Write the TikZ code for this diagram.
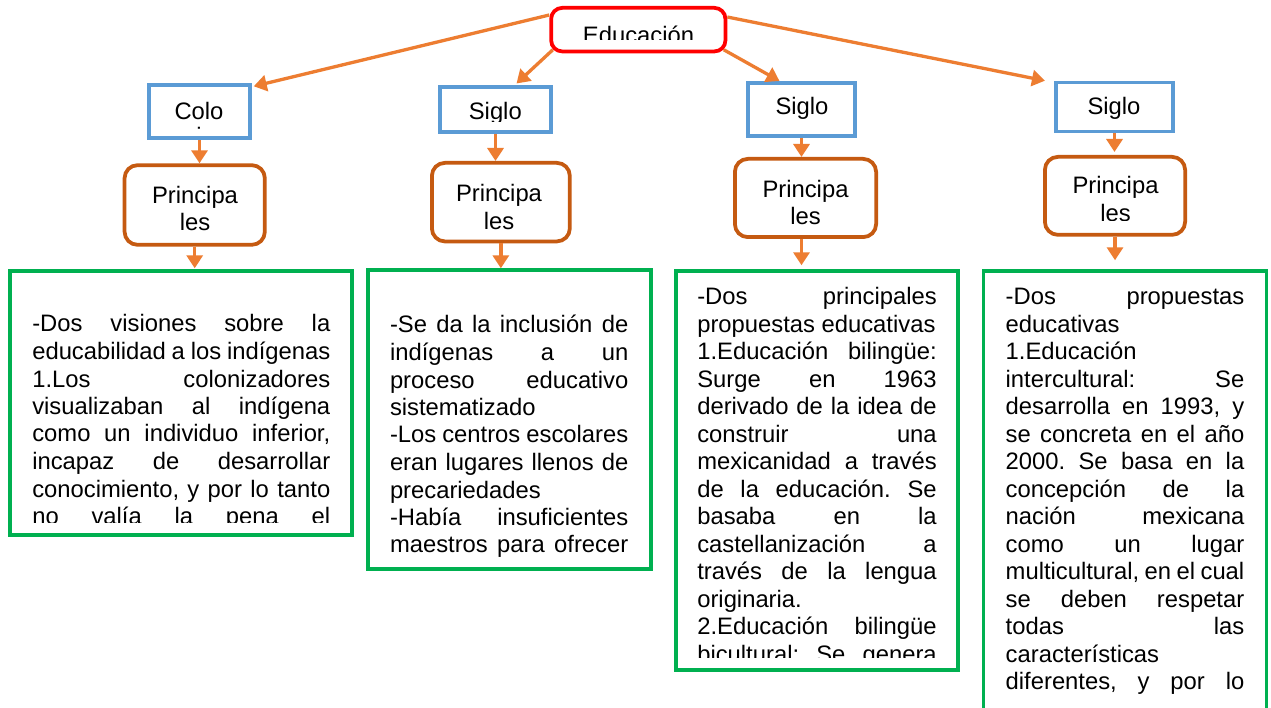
\documentclass[tikz,border=0pt]{standalone}
\usepackage{fontspec}
\setmainfont{Liberation Sans}
\usetikzlibrary{arrows.meta,calc}
\definecolor{arrowc}{HTML}{ED7D31}
\definecolor{bluec}{HTML}{5B9BD5}
\definecolor{brownc}{HTML}{C55A11}
\definecolor{greenc}{HTML}{00B050}
\definecolor{redc}{HTML}{FF0000}
\frenchspacing
\newcommand\fs{\fontsize{23.8pt}{27.5pt}\selectfont}
\newcommand\J[1]{\hbox to\hsize{#1}}
\newcommand\Rg[1]{\hbox to\hsize{#1\hfil}}
\newcommand\Cn[1]{\hbox to\hsize{\hfil#1\hfil}}
\newcommand\tb[2]{\vtop{\hsize=#1\relax\fs #2}}
\tikzset{
  boxline/.style={line width=3.75pt, inner sep=0pt, outer sep=1.875pt},
  edubox/.style={boxline, draw=redc, fill=white, rounded corners=11pt},
  bluebox/.style={boxline, draw=bluec},
  brownbox/.style={boxline, draw=brownc, rounded corners=13pt},
  greenbox/.style={boxline, draw=greenc},
  arr/.style={draw=arrowc, line width=3.3pt, -{Triangle[length=13pt,width=16pt]}},
  txt/.style={inner sep=0pt, outer sep=0pt, anchor=base west},
  ctxt/.style={inner sep=0pt, outer sep=0pt, anchor=base},
}
\begin{document}
\begin{tikzpicture}[x=1pt,y=-1pt]
\path[use as bounding box] (0,0) rectangle (1271,708);
\clip (0,0) rectangle (1271,708);
\fill[white] (0,0) rectangle (1271,708);

% boxes
\node[edubox, minimum width=174.25pt, minimum height=43.55pt] (edu) at (638.3,29.65) {};
\node[bluebox, minimum width=100.65pt, minimum height=52.95pt] (b1) at (199.5,111.65) {};
\node[bluebox, minimum width=111.25pt, minimum height=45.25pt] (b2) at (495.5,109.5) {};
\node[bluebox, minimum width=107.25pt, minimum height=53.25pt] (b3) at (801.5,109.5) {};
\node[bluebox, minimum width=117.25pt, minimum height=48.85pt] (b4) at (1114.5,107) {};
\node[brownbox, minimum width=140.25pt, minimum height=79.65pt] (o1) at (194.7,205) {};
\node[brownbox, minimum width=137.95pt, minimum height=78.55pt] (o2) at (500.85,202.15) {};
\node[brownbox, minimum width=141.25pt, minimum height=78.25pt] (o3) at (805.5,198) {};
\node[brownbox, minimum width=140.25pt, minimum height=77.95pt] (o4) at (1115,195.85) {};
\node[greenbox, minimum width=341.95pt, minimum height=263.65pt] (g1) at (181.15,403) {};
\node[greenbox, minimum width=282.95pt, minimum height=298.65pt] (g2) at (509.35,419.5) {};
\node[greenbox, minimum width=282.25pt, minimum height=399pt] (g3) at (817,470.65) {};
\node[greenbox, minimum width=282.85pt, minimum height=467pt] (g4) at (1125,504.65) {};

% connectors
\draw[arr] ($(edu.north west)+(0,9)$) -- ($(b1.north east)+(2,3)$);
\draw[arr] ($(edu.south west)+(3.5,-3.5)$) -- ($(b2.north)+(21,-1.5)$);
\draw[arr] ($(edu.south east)+(-3.5,-3.5)$) -- ($(b3.north)+(-22,0)$);
\draw[arr] ($(edu.north east)+(0,11)$) -- ($(b4.north west)+(-9,0)$);
\draw[arr] (b1.south) -- (b1.south |- o1.north);
\draw[arr, shorten >=1pt] (o1.south) -- (o1.south |- g1.north);
\draw[arr] (b2.south) -- (b2.south |- o2.north);
\draw[arr] (o2.south) -- (o2.south |- g2.north);
\draw[arr] (b3.south) -- (b3.south |- o3.north);
\draw[arr, shorten >=4pt] (o3.south -| b3.south) -- (b3.south |- g3.north);
\draw[arr, shorten >=3pt] (b4.south) -- (b4.south |- o4.north);
\draw[arr, shorten >=9pt] (o4.south) -- (o4.south |- g4.north);

% texts
\begin{scope}
\clip (556,10) rectangle (720,39.3);
\node[ctxt, font=\fs] (tedu) at (638.5,43.9) {Educación};
\end{scope}
\begin{scope}
\clip (150,86) rectangle (248,130.5);
\node[ctxt] (tb1) at (199,119.3) {\tb{100pt}{\Cn{Colo}\vskip-2.6pt\Cn{nia}}};
\end{scope}
\begin{scope}
\clip (441,87) rectangle (550,121.7);
\node[ctxt, font=\fs] (tb2) at (495.3,119.3) {Siglo};
\end{scope}
\node[ctxt, font=\fs] (tb3) at (802,115) {Siglo};
\node[ctxt, font=\fs] (tb4) at (1114,115) {Siglo};
\node[ctxt] (to1) at (195,203.5) {\tb{140pt}{\Cn{Principa}\Cn{les}}};
\node[ctxt] (to2) at (499,201.7) {\tb{140pt}{\Cn{Principa}\Cn{les}}};
\node[ctxt] (to3) at (805.5,197.3) {\tb{140pt}{\Cn{Principa}\Cn{les}}};
\begin{scope}
\clip (1046,158) rectangle (1184,220.8);
\node[ctxt] (to4) at (1115.5,194) {\tb{140pt}{\Cn{Principa}\Cn{les}}};
\end{scope}

\begin{scope}
\clip (13,273) rectangle (350,522);
\node[txt] (tg1) at (32.3,332) {\tb{298pt}{%
\J{-Dos visiones sobre la}
\J{educabilidad a los indígenas}
\J{1.Los colonizadores}
\J{visualizaban al indígena}
\J{como un individuo inferior,}
\J{incapaz de desarrollar}
\J{conocimiento, y por lo tanto}
\J{no valía la pena el}}};
\end{scope}

\node[txt] (tg2) at (390,333) {\tb{238.3pt}{%
\J{-Se da la inclusión de}
\J{indígenas a un}
\J{proceso educativo}
\Rg{sistematizado}
\J{-Los centros escolares}
\J{eran lugares llenos de}
\Rg{precariedades}
\J{-Había insuficientes}
\J{maestros para ofrecer}}};

\begin{scope}
\clip (679,273) rectangle (955,657);
\node[txt] (tg3) at (697.3,305) {\tb{239.4pt}{%
\J{-Dos principales}
\Rg{propuestas educativas}
\J{1.Educación bilingüe:}
\J{Surge en 1963}
\J{derivado de la idea de}
\J{construir una}
\J{mexicanidad a través}
\J{de la educación. Se}
\J{basaba en la}
\J{castellanización a}
\J{través de la lengua}
\Rg{originaria.}
\J{2.Educación bilingüe}
\J{bicultural: Se genera}}};
\end{scope}

\node[txt] (tg4) at (1005.7,305) {\tb{238.6pt}{%
\J{-Dos propuestas}
\Rg{educativas}
\Rg{1.Educación}
\J{intercultural: Se}
\J{desarrolla en 1993, y}
\J{se concreta en el año}
\J{2000. Se basa en la}
\J{concepción de la}
\J{nación mexicana}
\J{como un lugar}
\J{multicultural, en el cual}
\J{se deben respetar}
\J{todas las}
\Rg{características}
\J{diferentes, y por lo}}};
\end{tikzpicture}
\end{document}
